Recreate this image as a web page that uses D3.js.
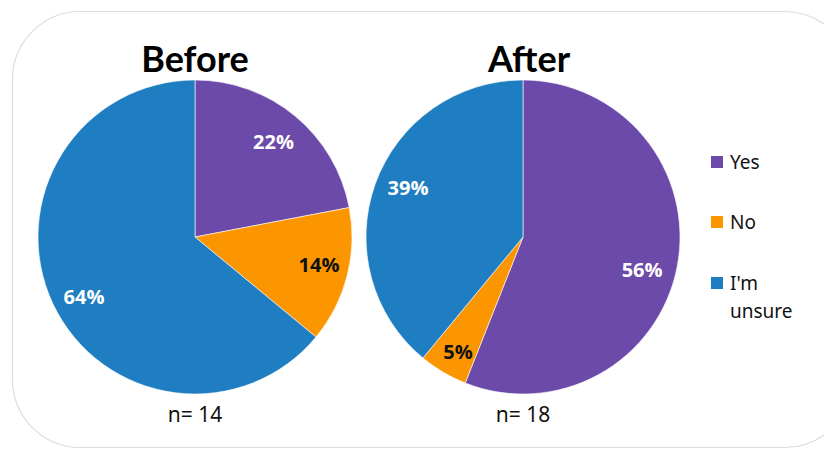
<!DOCTYPE html>
<html>
<head>
<meta charset="utf-8">
<script src="https://cdn.jsdelivr.net/npm/d3@7"></script>
<style>
  html, body { margin: 0; padding: 0; background: #fff; }
  svg { display: block; }
</style>
</head>
<body>
<svg id="chart" width="824" height="454"></svg>
<script>
// Survey responses before and after, shares in percent
const categories = ["Yes", "No", "I'm unsure"];
const beforeValues = [22, 14, 64];
const afterValues = [56, 5, 39];
const panelTitles = ["Before", "After"];
const sampleSizes = [14, 18];
const legendLines = [["Yes"], ["No"], ["I'm", "unsure"]];

const colors = d3.scaleOrdinal()
  .domain(categories)
  .range(["#6b4aa9", "#fc9600", "#1f7ec1"]);
const labelColors = d3.scaleOrdinal()
  .domain(categories)
  .range(["#ffffff", "#111111", "#ffffff"]);

const svg = d3.select("#chart");

// rounded card outline
svg.append("rect")
  .attr("x", 12.5).attr("y", 11.5)
  .attr("width", 840).attr("height", 436)
  .attr("rx", 68).attr("ry", 68)
  .attr("fill", "#fff")
  .attr("stroke", "#dcdcdc")
  .attr("stroke-width", 1.2);

const radius = 157;
const pie = d3.pie().sort(null).value(d => d.value);
const arc = d3.arc().innerRadius(0).outerRadius(radius);

// label placement: radial factor and small angular nudge (degrees) per slice
const panels = [
  { title: panelTitles[0], values: beforeValues, n: sampleSizes[0], cx: 195, cy: 237, titleDx: 0,
    labelR: [0.785, 0.81, 0.804], labelNudge: [0, -1.7, -3.2] },
  { title: panelTitles[1], values: afterValues, n: sampleSizes[1], cx: 523, cy: 237, titleDx: 6,
    labelR: [0.787, 0.84, 0.796], labelNudge: [4.7, -1.1, 3.3] }
];

panels.forEach(p => {
  const g = svg.append("g").attr("transform", `translate(${p.cx},${p.cy})`);
  const data = categories.map((c, i) => ({ cat: c, value: p.values[i] }));
  const arcs = pie(data);

  g.selectAll("path.slice")
    .data(arcs)
    .enter().append("path")
    .attr("class", "slice")
    .attr("d", arc)
    .attr("fill", d => colors(d.data.cat))
    .attr("stroke", "#ffffff")
    .attr("stroke-width", 0.6);

  g.selectAll("text.pct")
    .data(arcs)
    .enter().append("text")
    .attr("class", "pct")
    .attr("transform", (d, i) => {
      const a = (d.startAngle + d.endAngle) / 2 + p.labelNudge[i] * Math.PI / 180;
      const r = radius * p.labelR[i];
      return `translate(${Math.sin(a) * r},${-Math.cos(a) * r})`;
    })
    .attr("text-anchor", "middle")
    .attr("dy", "0.35em")
    .attr("font-family", "'Open Sans', sans-serif")
    .attr("font-weight", 700)
    .attr("font-size", 20)
    .attr("fill", d => labelColors(d.data.cat))
    .text(d => d.data.value + "%");

  svg.append("text")
    .attr("x", p.cx + p.titleDx).attr("y", 72)
    .attr("text-anchor", "middle")
    .attr("font-family", "Lato, 'Open Sans', sans-serif")
    .attr("font-weight", 700)
    .attr("font-size", 36)
    .attr("fill", "#000")
    .text(p.title);

  svg.append("text")
    .attr("x", p.cx).attr("y", 422)
    .attr("text-anchor", "middle")
    .attr("font-family", "'Noto Sans', sans-serif")
    .attr("font-size", 21)
    .attr("fill", "#111")
    .text("n= " + p.n);
});

// legend
const legendY = [162, 222, 283];
const legend = svg.append("g");
categories.forEach((c, i) => {
  legend.append("rect")
    .attr("x", 711).attr("y", legendY[i] - 6)
    .attr("width", 12).attr("height", 12)
    .attr("fill", colors(c));
  const t = legend.append("text")
    .attr("x", 730).attr("y", legendY[i])
    .attr("font-family", "'Noto Sans', sans-serif")
    .attr("font-size", 19)
    .attr("fill", "#111");
  legendLines[i].forEach((line, j) => {
    t.append("tspan")
      .attr("x", 730)
      .attr("dy", j === 0 ? "0.35em" : "1.5em")
      .text(line);
  });
});
</script>
</body>
</html>
